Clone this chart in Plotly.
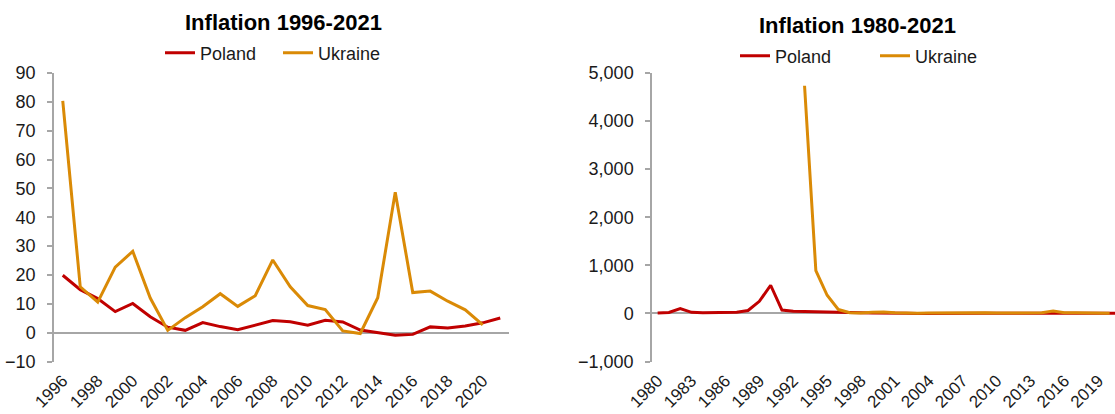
import plotly.graph_objects as go

# ---------------- data ----------------
years_short = list(range(1996, 2022))          # 1996-2021
years_long = list(range(1980, 2022))           # 1980-2021
years_ukr_short = list(range(1996, 2021))      # 1996-2020
years_ukr_long = list(range(1993, 2021))       # 1993-2020

poland_early = [9.4, 21.2, 100.8, 22.1, 15.0, 15.1, 17.7, 25.2, 60.2, 251.1,
                585.8, 70.3, 43.0, 35.3, 32.2, 27.8]                 # 1980-1995
poland = [19.9, 14.9, 11.8, 7.3, 10.1, 5.5, 1.9, 0.8, 3.5, 2.1, 1.0, 2.5, 4.2,
          3.8, 2.6, 4.3, 3.7, 0.9, 0.0, -0.9, -0.6, 2.0, 1.6, 2.3, 3.4, 5.1]  # 1996-2021

ukraine_early = [4735, 891, 377]                                     # 1993-1995
ukraine = [80.3, 15.9, 10.6, 22.7, 28.2, 12.0, 0.8, 5.2, 9.0, 13.5, 9.1, 12.8,
           25.2, 15.9, 9.4, 8.0, 0.6, -0.3, 12.1, 48.7, 13.9, 14.4, 10.9, 7.9, 2.7]  # 1996-2020

left_ticks = list(range(1996, 2021, 2))
right_ticks = list(range(1980, 2020, 3))

RED = "#C00000"
ORANGE = "#DA8A06"
GRAY = "#A6A6A6"
FONT = "Liberation Sans, Arial, sans-serif"

W, H = 1115, 414

def px(x):
    return x / W

def py(y):
    return (H - y) / H

fig = go.Figure()

fig.add_trace(go.Scatter(x=years_short, y=poland, name="Poland", mode="lines",
                         line=dict(color=RED, width=3), xaxis="x", yaxis="y",
                         legend="legend"))
fig.add_trace(go.Scatter(x=years_ukr_short, y=ukraine, name="Ukraine", mode="lines",
                         line=dict(color=ORANGE, width=3), xaxis="x", yaxis="y",
                         legend="legend"))
fig.add_trace(go.Scatter(x=years_long, y=poland_early + poland, name="Poland", mode="lines",
                         line=dict(color=RED, width=3), xaxis="x2", yaxis="y2",
                         legend="legend2"))
fig.add_trace(go.Scatter(x=years_ukr_long, y=ukraine_early + ukraine, name="Ukraine",
                         mode="lines", line=dict(color=ORANGE, width=3),
                         xaxis="x2", yaxis="y2", legend="legend2"))

ydom = [py(361.5), py(73)]
left_x0, left_x1 = 54, 509
right_x0 = 652
cat_w = 11.3
right_x1 = W
right_hi = 1979.5 + (right_x1 - right_x0) / cat_w

tickfont = dict(family=FONT, size=18, color="#1a1a1a")
xtickfont = dict(family=FONT, size=17, color="#1a1a1a")

common_x = dict(showline=False, showgrid=False, zeroline=False, ticks="",
                tickangle=-45, tickfont=xtickfont, automargin=False,
                ticklabelstandoff=5)
common_y = dict(showline=True, linecolor=GRAY, linewidth=1.5, showgrid=False,
                zeroline=True, zerolinecolor=GRAY, zerolinewidth=1.5,
                ticks="outside", ticklen=5, tickcolor=GRAY, tickwidth=1.5,
                tickfont=tickfont, automargin=False, ticklabelstandoff=8)

fig.update_layout(
    width=W, height=H,
    margin=dict(l=0, r=0, t=0, b=0),
    paper_bgcolor="white", plot_bgcolor="rgba(0,0,0,0)",
    font=dict(family=FONT, color="#1a1a1a"),
    xaxis=dict(domain=[px(left_x0), px(left_x1)], range=[1995.5, 2021.5],
               tickmode="array", tickvals=left_ticks, anchor="y", **common_x),
    yaxis=dict(domain=ydom, range=[-10, 90], tickmode="linear", tick0=-10, dtick=10,
               anchor="x", **common_y),
    xaxis2=dict(domain=[px(right_x0), 1.0], range=[1979.5, right_hi],
                tickmode="array", tickvals=right_ticks, anchor="y2", **common_x),
    yaxis2=dict(domain=ydom, range=[-1000, 5000], tickmode="linear", tick0=-1000,
                dtick=1000, tickformat=",d", anchor="x2", **common_y),
    legend=dict(orientation="h", x=px(160), y=py(53), xanchor="left", yanchor="middle",
                font=dict(family=FONT, size=18, color="#1a1a1a"),
                entrywidth=73, bgcolor="rgba(0,0,0,0)", itemclick=False),
    legend2=dict(orientation="h", x=px(735), y=py(56), xanchor="left", yanchor="middle",
                 font=dict(family=FONT, size=18, color="#1a1a1a"),
                 entrywidth=95, bgcolor="rgba(0,0,0,0)", itemclick=False),
    annotations=[
        dict(text="<b>Inflation 1996-2021</b>", x=px(283), y=py(22), xref="paper",
             yref="paper", showarrow=False, xanchor="center", yanchor="middle",
             font=dict(family=FONT, size=22, color="#000000")),
        dict(text="<b>Inflation 1980-2021</b>", x=px(857), y=py(25), xref="paper",
             yref="paper", showarrow=False, xanchor="center", yanchor="middle",
             font=dict(family=FONT, size=22, color="#000000")),
    ],
)

fig.write_html("out.html", config={"displayModeBar": False},
               post_script="document.body.style.margin='0';document.body.style.overflow='hidden';")
